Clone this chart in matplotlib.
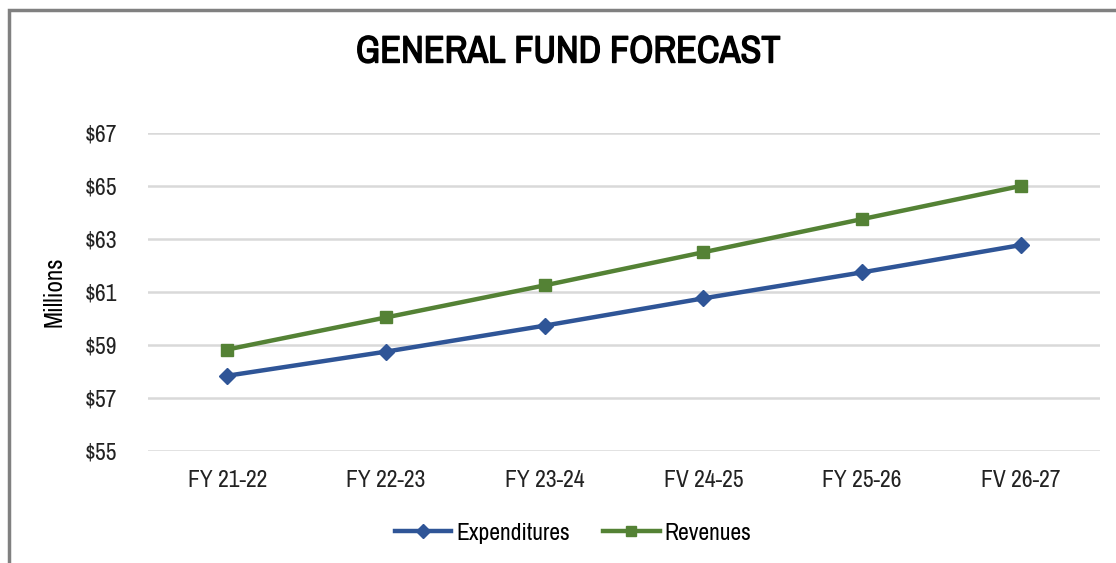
import matplotlib
matplotlib.use('Agg')
from matplotlib import pyplot as plt
from matplotlib import patheffects as pe
from matplotlib.patches import Rectangle

# data
years = ['FY 21-22', 'FY 22-23', 'FY 23-24', 'FV 24-25', 'FY 25-26', 'FV 26-27']
expenditures = [57.84, 58.75, 59.73, 60.76, 61.74, 62.77]
revenues = [58.83, 60.04, 61.25, 62.50, 63.75, 65.00]
y_ticks = [55, 57, 59, 61, 63, 65, 67]

plt.rcParams['font.family'] = ['Archivo Narrow', 'Liberation Sans', 'DejaVu Sans']

fig = plt.figure(figsize=(11.16, 5.63), dpi=100)
ax = fig.add_axes([148 / 1116, 1 - 451 / 563, (1100 - 148) / 1116, (451 - 133) / 563])

x = list(range(len(years)))
ax.plot(x, expenditures, color='#2F5597', lw=3.2, marker='D', ms=8.5,
        label='Expenditures', zorder=3)
ax.plot(x, revenues, color='#548235', lw=3.2, marker='s', ms=8.5,
        label='Revenues', zorder=3)

ax.set_xlim(-0.5, len(years) - 0.5)
ax.set_ylim(55, 67)
ax.set_yticks(y_ticks)
ax.set_yticklabels([f'${v}' for v in y_ticks])
ax.set_xticks(x)
ax.set_xticklabels(years)
ax.tick_params(length=0, labelsize=17, colors='#222222')
ax.tick_params(axis='y', pad=22)
ax.tick_params(axis='x', pad=14)
ax.grid(axis='y', color='#D9D9D9', lw=1.8)
ax.set_axisbelow(True)
for s in ax.spines.values():
    s.set_visible(False)

ax.set_ylabel('Millions', fontsize=18, labelpad=14)

# variable font has no bold instance, so thicken with a stroke
fig.text(568 / 1116, 1 - 52 / 563, 'GENERAL FUND FORECAST', ha='center', va='center',
         fontsize=27.5, path_effects=[pe.withStroke(linewidth=1.0, foreground='black')])

leg = fig.legend(loc='center', bbox_to_anchor=(573 / 1116, 1 - 533 / 563), ncol=2,
                 frameon=False, fontsize=17, handlelength=2.4, columnspacing=1.4,
                 handletextpad=0.2, markerscale=0.8)

# outer frame (only left and top edges visible)
fig.patches.append(Rectangle((9 / 1116, -0.1), 1.2, 1 - 10 / 563 + 0.1,
                             transform=fig.transFigure, fill=False,
                             edgecolor='#808080', lw=2.5))

fig.savefig('out.png', dpi=100)
